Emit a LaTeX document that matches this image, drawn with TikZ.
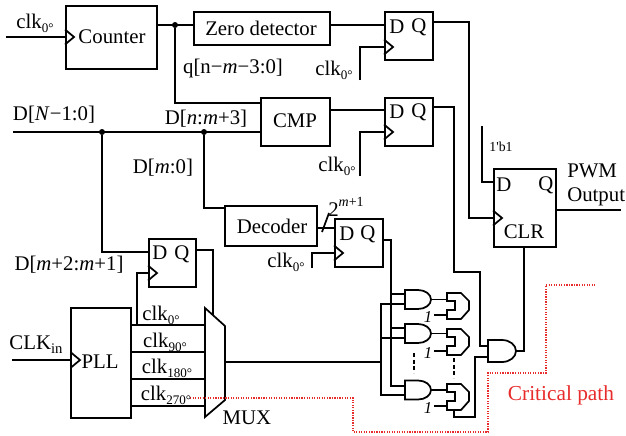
\documentclass[tikz,border=0pt]{standalone}
\usepackage{fontspec}
\setmainfont{Liberation Serif}
\usetikzlibrary{arrows}
\definecolor{critred}{RGB}{232,44,44}
\newcommand{\clkn}[1]{clk\raisebox{-.4ex}{\fontsize{9.8}{10}\selectfont #1\textdegree}}
\tikzset{
  wire/.style={line width=1.3pt},
  blockbox/.style={draw,line width=1.3pt,inner sep=0pt,anchor=north west},
  txt/.style={inner sep=0.75pt,font=\fontsize{15.6}{18}\selectfont},
  jdot/.style={circle,fill=black,inner sep=0pt,minimum size=4.5pt},
  gatebox/.style={inner sep=0pt,outer sep=0pt,anchor=west,minimum width=#1*0.75pt},
  clktip/.pic={\draw[wire] (0,-7.5) -- (9,0) -- (0,7.5);},
  andshape/.pic={\draw[wire] (0,-9.5) -- (13,-9.5) arc (-90:90:13 and 9.5) -- (0,9.5) -- cycle;},
  bigandshape/.pic={\draw[wire] (0,-11) -- (14,-11) arc (-90:90:14 and 11) -- (0,11) -- cycle;},
  resshape/.pic={\draw[wire] (0,-13) -- (14,-13) -- (22,-4) -- (22,5) -- (14,13) -- (0,13) -- (0,5) -- (8,5) -- (8,-4) -- (0,-4) -- cycle;}
}
\begin{document}
\begin{tikzpicture}[x=0.75pt,y=0.75pt,yscale=-1,xscale=1]
\useasboundingbox (0,0) rectangle (626,436);

%Blocks
\node[blockbox,minimum width=68.25pt,minimum height=47.25pt] (cnt) at (65,5) {};
\node[blockbox,minimum width=102pt,minimum height=24.75pt] (zero) at (193,11) {};
\node[blockbox,minimum width=51.75pt,minimum height=36pt] (cmp) at (260,97) {};
\node[blockbox,minimum width=69pt,minimum height=30pt] (dec) at (224,205) {};
\node[blockbox,minimum width=45pt,minimum height=82.5pt] (pll) at (70,307) {};
\node[blockbox,minimum width=36pt,minimum height=36pt] (ffa) at (384,11) {};
\node[blockbox,minimum width=36pt,minimum height=36pt] (ffb) at (384,97) {};
\node[blockbox,minimum width=36pt,minimum height=36pt] (ffc) at (334,218) {};
\node[blockbox,minimum width=35.25pt,minimum height=36pt] (ffd) at (148,238) {};
\node[blockbox,minimum width=46.5pt,minimum height=58.5pt] (ffe) at (493,168) {};

%Mux
\draw[wire] (205,308) -- (225,326) -- (225,400) -- (205,417) -- cycle;
\coordinate (muxt) at (213,315);
\coordinate (muxo) at (225,362);
\coordinate (muxa) at (205,325);
\coordinate (muxb) at (205,352);
\coordinate (muxc) at (205,379);
\coordinate (muxd) at (205,406);

%Gates
\node[gatebox=26] (anda) at (405,299.5) {};
\node[gatebox=26] (andb) at (405,333.5) {};
\node[gatebox=26] (andc) at (405,390) {};
\node[gatebox=28] (andd) at (488,351) {};
\pic at (anda.west) {andshape};
\pic at (andb.west) {andshape};
\pic at (andc.west) {andshape};
\pic at (andd.west) {bigandshape};
\node[gatebox=22] (ora) at (447,306) {};
\node[gatebox=22] (orb) at (447,342) {};
\node[gatebox=22] (orc) at (447,397) {};
\pic at (ora.west) {resshape};
\pic at (orb.west) {resshape};
\pic at (orc.west) {resshape};

%Ports
\coordinate (clka) at (6,37);
\coordinate (clkb) at (360,80);
\coordinate (clkc) at (360,176);
\coordinate (clkd) at (312,268);
\coordinate (clke) at (12,360);
\coordinate (dbus) at (13,132);
\coordinate (one) at (482,126);
\coordinate (pwm) at (621,210);
\coordinate (buso) at (381,362);
\coordinate (qbus) at (391,294);
\coordinate (inbus) at (381,304);
\coordinate (onea) at (434,315);
\coordinate (oneb) at (434,351);
\coordinate (onec) at (434,406);

%Clock marks
\pic at (cnt.west |- clka) {clktip};
\pic at (71,360) {clktip};
\pic at (384,47) {clktip};
\pic at (384,132) {clktip};
\pic at (334,253) {clktip};
\pic at (148,273) {clktip};
\pic at (493,218) {clktip};

%Wires
\draw[wire] (clka) -- (cnt.west |- clka);
\draw[wire] (cnt.east |- 0,25) -- (zero.west |- 0,25);
\node[jdot] (ja) at (175,25) {};
\draw[wire] (ja) |- (cmp.west |- 0,103);
\draw[wire] (zero.east |- 0,25) -- (ffa.west |- 0,25);
\draw[wire] (cmp.east |- 0,110) -- (ffb.west |- 0,110);
\draw[wire] (dbus) -- (cmp.west |- dbus);
\node[jdot] (jb) at (102,132) {};
\node[jdot] (jc) at (204,132) {};
\draw[wire] (jb) |- (ffd.west |- 0,252);
\draw[wire] (jc) |- (dec.west |- 0,208);
\draw[wire] (dec.east |- 0,228) -- (ffc.west |- 0,228);
\draw[wire] (ffa.east |- 0,22) -| (469,218) -- (ffe.west |- 0,218);
\draw[wire] (ffb.east |- 0,107) -- (454,107) -- (454,272) -- (480,272) -- (480,346) -- (andd.west |- 0,346);
\draw[wire] (clkb) |- (ffa.west |- 0,47);
\draw[wire] (clkc) |- (ffb.west |- 0,132);
\draw[wire] (clkd) |- (ffc.west |- 0,253);
\draw[wire] (322,232) -- (329,213);
\draw[wire] (one) |- (ffe.west |- 0,182);
\draw[wire] (ffe.east |- pwm) -- (pwm);
\draw[wire] (clke) -- (pll.west |- clke);
\draw[wire] (pll.east |- muxa) -- (muxa);
\draw[wire] (pll.east |- muxb) -- (muxb);
\draw[wire] (pll.east |- muxc) -- (muxc);
\draw[wire] (pll.east |- muxd) -- (muxd);
\draw[wire] (137,325) |- (ffd.west |- 0,273);
\draw[wire] (ffd.east |- 0,250) -| (muxt);
\draw[wire] (muxo) -- (buso);
\draw[wire] (ffc.east |- 0,240) -| (qbus) |- (anda.west |- qbus);
\draw[wire] (qbus) |- (andb.west |- 0,328);
\draw[wire] (qbus) |- (andc.west |- 0,386);
\draw[wire] (buso) |- (anda.west |- inbus);
\draw[wire] (buso) |- (andb.west |- 0,338);
\draw[wire] (buso) |- (andc.west |- 0,395);
\draw[wire] (anda.east) -- (ora.west |- anda.east);
\draw[wire] (andb.east) -- (orb.west |- andb.east);
\draw[wire] (andc.east) -- (orc.west |- andc.east);
\draw[wire] (onea) -- (ora.west |- onea);
\draw[wire] (oneb) -- (orb.west |- oneb);
\draw[wire] (onec) -- (orc.west |- onec);
\draw[wire] (454,410) |- (475,417) |- (andd.west |- 0,357);
\draw[wire] (andd.east) -| (ffe.south -| 524,0);
\draw[wire,densely dashed] (414,353) -- (414,373);
\draw[wire,densely dashed] (454,358) -- (454,378);

%Critical path
\draw[critred,densely dotted,line width=0.9pt] (190,398) -- (353,398) -- (353,432) -- (488,432) -- (488,373) -- (546,373) -- (546,285) -- (596,285);

%Text
\node[txt] (tclka) at (35,23) {\clkn{0}};
\node[txt] (tcnt) at (112,37) {Counter};
\node[txt] (tzero) at (261,28) {Zero detector};
\node[txt] (tq) at (233,68) {q[n−\textit{m}−3:0]};
\node[txt] (tcmp) at (295,121) {CMP};
\node[txt] (tdec) at (272,226) {Decoder};
\node[txt] (tpll) at (100,362) {PLL};
\node[txt] (tda) at (54,115) {D[\textit{N}−1:0]};
\node[txt] (tdb) at (206,119) {D[\textit{n}:\textit{m}+3]};
\node[txt] (tdc) at (163,168) {D[\textit{m}:0]};
\node[txt] (tdd) at (69,265) {D[\textit{m}+2:\textit{m}+1]};
\node[txt] (tclke) at (36,345) {CLK\raisebox{-.4ex}{\fontsize{11}{11}\selectfont in}};
\node[txt] (tca) at (334,70) {\clkn{0}};
\node[txt] (tcb) at (337,166) {\clkn{0}};
\node[txt] (tcc) at (286,262) {\clkn{0}};
\node[txt] (tk0) at (161,315) {\clkn{0}};
\node[txt] (tk90) at (165,342) {\clkn{90}};
\node[txt] (tk180) at (167,368) {\clkn{180}};
\node[txt] (tk270) at (166,395) {\clkn{270}};
\node[txt] (tmux) at (247,418) {MUX};
\node[txt] (texp) at (346,207) {2\raisebox{1.1ex}{\fontsize{10.5}{10.5}\selectfont \textit{m}+1}};
\node[txt] (tfad) at (397,27) {D};
\node[txt] (tfaq) at (419,27) {Q};
\node[txt] (tfbd) at (397,112) {D};
\node[txt] (tfbq) at (419,112) {Q};
\node[txt] (tfcd) at (347,234) {D};
\node[txt] (tfcq) at (368,234) {Q};
\node[txt] (tfdd) at (160,253) {D};
\node[txt] (tfdq) at (182,254) {Q};
\node[txt] (tfed) at (504,185) {D};
\node[txt] (tfeq) at (546,185) {Q};
\node[txt] (tclr) at (524,232) {CLR};
\node[txt,font=\fontsize{10.3}{12}\selectfont] (tone) at (501,147) {1\textquotesingle b1};
\node[txt,anchor=west] (tpwm) at (566,171) {PWM};
\node[txt,anchor=west] (tout) at (566,197) {Output};
\node[txt,font=\fontsize{12.5}{13}\selectfont\itshape] (tia) at (428,317) {1};
\node[txt,font=\fontsize{12.5}{13}\selectfont\itshape] (tib) at (428,353) {1};
\node[txt,font=\fontsize{12.5}{13}\selectfont\itshape] (tic) at (428,408) {1};
\node[txt,text=critred,font=\fontsize{16}{18}\selectfont] (tcrit) at (561,395) {Critical path};
\end{tikzpicture}
\end{document}
